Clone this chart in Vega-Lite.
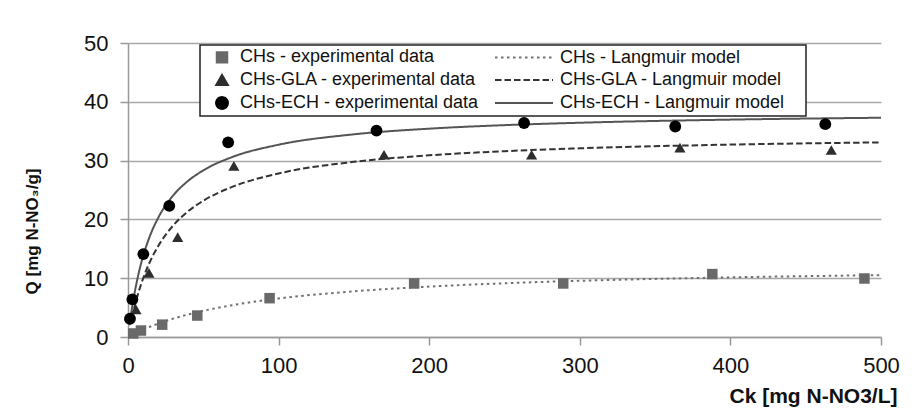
{
  "$schema": "https://vega.github.io/schema/vega-lite/v6.json",
  "width": 753,
  "height": 294,
  "autosize": {"type": "none"},
  "padding": {"left": 128, "top": 43, "right": 39, "bottom": 78},
  "background": "white",
  "config": {
    "view": {"stroke": null},
    "font": "Liberation Sans",
    "axis": {
      "labelFont": "Liberation Sans",
      "labelFontSize": 22,
      "labelColor": "#111111",
      "titleFont": "Liberation Sans",
      "titleFontWeight": "bold",
      "titleColor": "#111111",
      "domainColor": "#999999",
      "domainWidth": 1.5,
      "tickColor": "#999999",
      "tickWidth": 1.5,
      "tickSize": 8,
      "gridColor": "#a8a8a8",
      "gridWidth": 1.4
    }
  },
  "datasets": {
    "exp": [
      {"C": 3.5, "Q": 0.6, "series": "CHs - experimental data"},
      {"C": 8.6, "Q": 1.1, "series": "CHs - experimental data"},
      {"C": 22.7, "Q": 2.1, "series": "CHs - experimental data"},
      {"C": 46, "Q": 3.65, "series": "CHs - experimental data"},
      {"C": 94, "Q": 6.6, "series": "CHs - experimental data"},
      {"C": 190, "Q": 9.1, "series": "CHs - experimental data"},
      {"C": 289, "Q": 9.1, "series": "CHs - experimental data"},
      {"C": 388, "Q": 10.7, "series": "CHs - experimental data"},
      {"C": 489, "Q": 9.95, "series": "CHs - experimental data"},
      {"C": 5.3, "Q": 4.7, "series": "CHs-GLA - experimental data"},
      {"C": 13.9, "Q": 10.9, "series": "CHs-GLA - experimental data"},
      {"C": 33, "Q": 17.0, "series": "CHs-GLA - experimental data"},
      {"C": 70.3, "Q": 29.1, "series": "CHs-GLA - experimental data"},
      {"C": 170, "Q": 31.0, "series": "CHs-GLA - experimental data"},
      {"C": 268, "Q": 31.0, "series": "CHs-GLA - experimental data"},
      {"C": 366.5, "Q": 32.2, "series": "CHs-GLA - experimental data"},
      {"C": 467, "Q": 31.8, "series": "CHs-GLA - experimental data"},
      {"C": 1.3, "Q": 3.1, "series": "CHs-ECH - experimental data"},
      {"C": 2.9, "Q": 6.4, "series": "CHs-ECH - experimental data"},
      {"C": 10.2, "Q": 14.1, "series": "CHs-ECH - experimental data"},
      {"C": 27.4, "Q": 22.3, "series": "CHs-ECH - experimental data"},
      {"C": 66.5, "Q": 33.1, "series": "CHs-ECH - experimental data"},
      {"C": 165, "Q": 35.1, "series": "CHs-ECH - experimental data"},
      {"C": 263, "Q": 36.4, "series": "CHs-ECH - experimental data"},
      {"C": 363.4, "Q": 35.8, "series": "CHs-ECH - experimental data"},
      {"C": 463, "Q": 36.2, "series": "CHs-ECH - experimental data"}
    ],
    "model": [
      {"C": 3, "Q": 0.40, "series": "CHs - Langmuir model"},
      {"C": 10, "Q": 1.25, "series": "CHs - Langmuir model"},
      {"C": 20, "Q": 2.27, "series": "CHs - Langmuir model"},
      {"C": 30, "Q": 3.12, "series": "CHs - Langmuir model"},
      {"C": 50, "Q": 4.45, "series": "CHs - Langmuir model"},
      {"C": 75, "Q": 5.66, "series": "CHs - Langmuir model"},
      {"C": 100, "Q": 6.55, "series": "CHs - Langmuir model"},
      {"C": 150, "Q": 7.77, "series": "CHs - Langmuir model"},
      {"C": 200, "Q": 8.57, "series": "CHs - Langmuir model"},
      {"C": 250, "Q": 9.14, "series": "CHs - Langmuir model"},
      {"C": 300, "Q": 9.56, "series": "CHs - Langmuir model"},
      {"C": 400, "Q": 10.14, "series": "CHs - Langmuir model"},
      {"C": 500, "Q": 10.52, "series": "CHs - Langmuir model"},
      {"C": 4, "Q": 4.79, "series": "CHs-GLA - Langmuir model"},
      {"C": 6, "Q": 6.73, "series": "CHs-GLA - Langmuir model"},
      {"C": 8, "Q": 8.43, "series": "CHs-GLA - Langmuir model"},
      {"C": 10, "Q": 9.93, "series": "CHs-GLA - Langmuir model"},
      {"C": 15, "Q": 13.04, "series": "CHs-GLA - Langmuir model"},
      {"C": 20, "Q": 15.45, "series": "CHs-GLA - Langmuir model"},
      {"C": 30, "Q": 18.96, "series": "CHs-GLA - Langmuir model"},
      {"C": 40, "Q": 21.39, "series": "CHs-GLA - Langmuir model"},
      {"C": 50, "Q": 23.17, "series": "CHs-GLA - Langmuir model"},
      {"C": 70, "Q": 25.61, "series": "CHs-GLA - Langmuir model"},
      {"C": 100, "Q": 27.81, "series": "CHs-GLA - Langmuir model"},
      {"C": 150, "Q": 29.79, "series": "CHs-GLA - Langmuir model"},
      {"C": 200, "Q": 30.90, "series": "CHs-GLA - Langmuir model"},
      {"C": 250, "Q": 31.60, "series": "CHs-GLA - Langmuir model"},
      {"C": 300, "Q": 32.09, "series": "CHs-GLA - Langmuir model"},
      {"C": 400, "Q": 32.72, "series": "CHs-GLA - Langmuir model"},
      {"C": 500, "Q": 33.10, "series": "CHs-GLA - Langmuir model"},
      {"C": 1, "Q": 2.02, "series": "CHs-ECH - Langmuir model"},
      {"C": 2, "Q": 3.83, "series": "CHs-ECH - Langmuir model"},
      {"C": 4, "Q": 6.97, "series": "CHs-ECH - Langmuir model"},
      {"C": 6, "Q": 9.59, "series": "CHs-ECH - Langmuir model"},
      {"C": 8, "Q": 11.81, "series": "CHs-ECH - Langmuir model"},
      {"C": 10, "Q": 13.71, "series": "CHs-ECH - Langmuir model"},
      {"C": 15, "Q": 17.47, "series": "CHs-ECH - Langmuir model"},
      {"C": 20, "Q": 20.25, "series": "CHs-ECH - Langmuir model"},
      {"C": 30, "Q": 24.07, "series": "CHs-ECH - Langmuir model"},
      {"C": 40, "Q": 26.57, "series": "CHs-ECH - Langmuir model"},
      {"C": 50, "Q": 28.34, "series": "CHs-ECH - Langmuir model"},
      {"C": 70, "Q": 30.68, "series": "CHs-ECH - Langmuir model"},
      {"C": 100, "Q": 32.70, "series": "CHs-ECH - Langmuir model"},
      {"C": 150, "Q": 34.47, "series": "CHs-ECH - Langmuir model"},
      {"C": 200, "Q": 35.43, "series": "CHs-ECH - Langmuir model"},
      {"C": 250, "Q": 36.03, "series": "CHs-ECH - Langmuir model"},
      {"C": 300, "Q": 36.44, "series": "CHs-ECH - Langmuir model"},
      {"C": 400, "Q": 36.97, "series": "CHs-ECH - Langmuir model"},
      {"C": 500, "Q": 37.29, "series": "CHs-ECH - Langmuir model"}
    ]
  },
  "encoding": {
    "x": {
      "field": "C", "type": "quantitative",
      "scale": {"domain": [0, 500], "nice": false},
      "axis": {
        "title": "Ck [mg N-NO3/L]",
        "titleFontSize": 21,
        "titleX": 769,
        "titleY": 65,
        "titleAlign": "right",
        "titleBaseline": "alphabetic",
        "values": [0, 100, 200, 300, 400, 500],
        "grid": false,
        "labelPadding": 10,
        "labelFlush": false
      }
    },
    "y": {
      "field": "Q", "type": "quantitative",
      "scale": {"domain": [0, 50], "nice": false},
      "axis": {
        "title": "Q [mg N-NO₃/g]",
        "titleFont": "Liberation Sans Narrow, Liberation Sans",
        "titleFontSize": 17,
        "titleX": -96,
        "titleY": 188,
        "titleAlign": "center",
        "titleBaseline": "middle",
        "values": [0, 10, 20, 30, 40, 50],
        "grid": true,
        "labelPadding": 12
      }
    },
    "color": {
      "field": "series", "type": "nominal",
      "scale": {
        "domain": ["CHs - experimental data", "CHs-GLA - experimental data", "CHs-ECH - experimental data", "CHs - Langmuir model", "CHs-GLA - Langmuir model", "CHs-ECH - Langmuir model"],
        "range": ["#696969", "#2d2d2d", "#000000", "#707070", "#333333", "#555555"]
      },
      "legend": {
        "title": "\u00a0",
        "titleOrient": "right",
        "titlePadding": 19,
        "titleFontSize": 8,
        "orient": "none",
        "legendX": 72,
        "legendY": 2,
        "columns": 2,
        "strokeColor": "#222222",
        "fillColor": "white",
        "padding": 3,
        "rowPadding": 3,
        "columnPadding": 12,
        "labelFont": "Liberation Sans",
        "labelFontSize": 18,
        "labelColor": "#111111",
        "labelLimit": 400,
        "symbolSize": 3364,
        "encode": {
          "legend": {"update": {"strokeWidth": {"value": 1.5}}},
          "symbols": {
            "update": {
              "shape": {"signal": "datum.value === 'CHs - experimental data' ? 'square' : datum.value === 'CHs-GLA - experimental data' ? 'triangle-up' : datum.value === 'CHs-ECH - experimental data' ? 'circle' : 'stroke'"},
              "size": {"signal": "test(/Langmuir/, datum.value) ? 3364 : (datum.value === 'CHs - experimental data' ? 110 : 140)"},
              "fill": {"signal": "test(/Langmuir/, datum.value) ? 'transparent' : scale('color', datum.value)"},
              "stroke": {"signal": "test(/Langmuir/, datum.value) ? scale('color', datum.value) : 'transparent'"},
              "strokeWidth": {"value": 2},
              "strokeDash": {"signal": "datum.value === 'CHs - Langmuir model' ? [2.5, 3.5] : datum.value === 'CHs-GLA - Langmuir model' ? [6.5, 3] : [1, 0]"},
              "opacity": {"value": 1},
              "x": {"signal": "test(/Langmuir/, datum.value) ? 29 : 19"}
            }
          },
          "labels": {
            "update": {
              "x": {"signal": "test(/Langmuir/, datum.value) ? 65 : 37"}
            }
          }
        }
      }
    }
  },
  "layer": [
    {
      "data": {"name": "model"},
      "mark": {"type": "line", "interpolate": "monotone", "strokeWidth": 2},
      "encoding": {
        "strokeDash": {
          "field": "series", "type": "nominal",
          "scale": {
            "domain": ["CHs - Langmuir model", "CHs-GLA - Langmuir model", "CHs-ECH - Langmuir model"],
            "range": [[2.5, 3.5], [6.5, 3], [1, 0]]
          },
          "legend": null
        }
      }
    },
    {
      "data": {"name": "exp"},
      "mark": {"type": "point", "filled": true, "opacity": 1},
      "encoding": {
        "shape": {
          "field": "series", "type": "nominal",
          "scale": {
            "domain": ["CHs - experimental data", "CHs-GLA - experimental data", "CHs-ECH - experimental data"],
            "range": ["square", "triangle-up", "circle"]
          },
          "legend": null
        },
        "size": {
          "field": "series", "type": "nominal",
          "scale": {
            "domain": ["CHs - experimental data", "CHs-GLA - experimental data", "CHs-ECH - experimental data"],
            "range": [110, 140, 140]
          },
          "legend": null
        }
      }
    }
  ]
}
